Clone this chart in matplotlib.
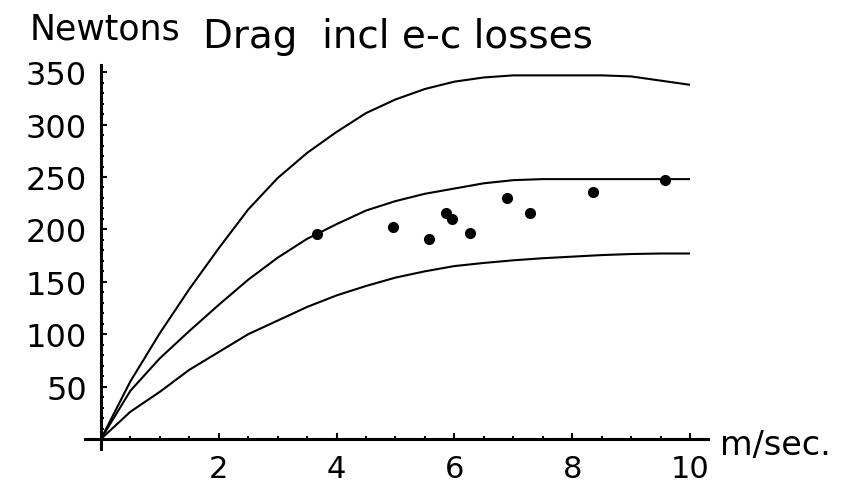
import matplotlib
matplotlib.use("Agg")
import matplotlib.pyplot as plt
import numpy as np

# speed grid (m/sec.) for the three drag curves
speed = [0, 0.5, 1, 1.5, 2, 2.5, 3, 3.5, 4, 4.5, 5, 5.5, 6, 6.5, 7, 7.5, 8, 8.5, 9, 9.5, 10]
drag_high = [0, 55, 101, 143, 182, 219, 249, 273, 293, 311, 324, 334, 341, 345, 347, 347, 347, 347, 346, 342, 338]
drag_mid = [0, 46, 77, 103, 128, 152, 173, 191, 205, 218, 227, 234, 239, 244, 247, 248, 248, 248, 248, 248, 248]
drag_low = [0, 26, 45, 66, 83, 100, 113, 126, 137, 146, 154, 160, 165, 168, 170.5, 172.5, 174, 175.5, 176.5, 177, 177]

# measured points
meas_speed = [3.67, 4.95, 5.57, 5.86, 5.96, 6.27, 6.89, 7.28, 8.36, 9.58]
meas_drag = [196, 202, 191, 216, 210, 197, 230, 216, 236, 247]

y_ticks = [50, 100, 150, 200, 250, 300, 350]
x_ticks = [2, 4, 6, 8, 10]

W, H = 845, 489
fig = plt.figure(figsize=(W / 100, H / 100), dpi=100)
ax = fig.add_axes([0.0846, 0.0681, 0.7877, 0.8143])
ax.set_xlim(-0.5, 10.8)
ax.set_ylim(-15, 365)

for ys in (drag_high, drag_mid, drag_low):
    ax.plot(speed, ys, color='black', lw=1.5, solid_capstyle='butt')
ax.plot(meas_speed, meas_drag, 'o', color='black', ms=7)

# Mathematica style axes crossing at origin
ax.spines['left'].set_position(('data', 0))
ax.spines['bottom'].set_position(('data', 0))
ax.spines['left'].set_bounds(-9.5, 357)
ax.spines['bottom'].set_bounds(-0.27, 10.3)
for s in ('top', 'right'):
    ax.spines[s].set_visible(False)
for s in ('left', 'bottom'):
    ax.spines[s].set_linewidth(2.2)

ax.set_yticks(y_ticks)
ax.set_yticks(np.arange(10, 360, 10), minor=True)
ax.set_xticks(x_ticks)
ax.set_xticks(np.arange(0.5, 10.5, 0.5), minor=True)
ax.tick_params(which='major', direction='in', length=4.5, width=1.5, labelsize=23, colors='black')
ax.tick_params(which='minor', direction='in', length=2.5, width=1.5)
ax.tick_params(axis='y', which='major', pad=10)
ax.tick_params(axis='x', which='major', pad=11, labelsize=22)

fig.text(30 / W, 1 - 40 / H, 'Newtons', fontsize=25, ha='left', va='baseline')
fig.text(203 / W, 1 - 48 / H, 'Drag  incl e-c losses', fontsize=28, ha='left', va='baseline')
fig.text(720 / W, 1 - 455 / H, 'm/sec.', fontsize=24, ha='left', va='baseline')

fig.savefig('out.png', dpi=100, facecolor='white')
